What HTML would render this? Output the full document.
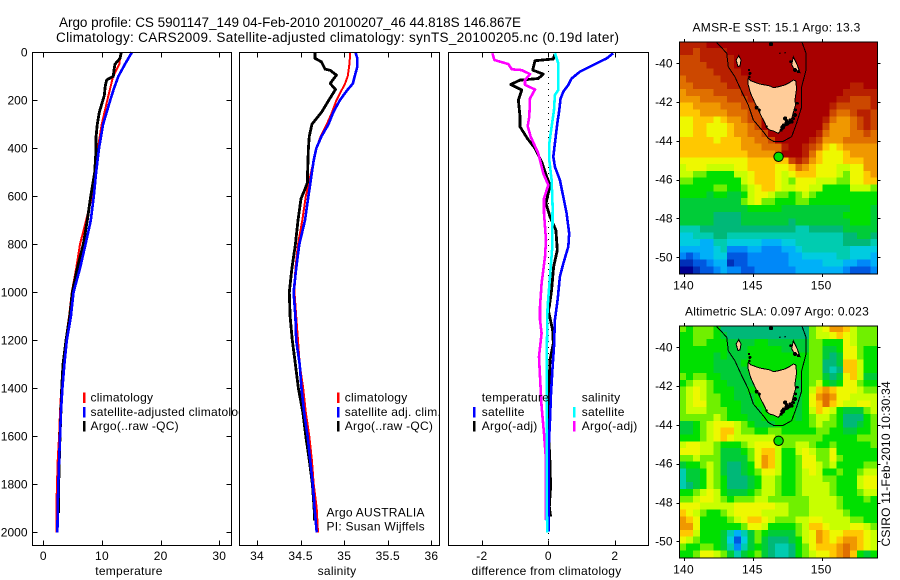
<!DOCTYPE html>
<html lang="en">
<head>
<meta charset="utf-8">
<title>Argo profile CS 5901147_149</title>
<style>
html,body{margin:0;padding:0;background:#fff;}
svg{display:block;}
text{font-family:"Liberation Sans",sans-serif;font-size:12px;fill:#000;letter-spacing:.25px;}
.frame{fill:none;stroke:#000;stroke-width:1;shape-rendering:crispEdges;}
</style>
</head>
<body>
<svg id="chart" xmlns="http://www.w3.org/2000/svg" width="900" height="580" viewBox="0 0 900 580">
  <defs>
    <clipPath id="clip-map1"><rect x="679.5" y="41.5" width="198" height="232"/></clipPath>
    <clipPath id="clip-map2"><rect x="679.5" y="325.5" width="198" height="232"/></clipPath>
  </defs>
  <rect x="0" y="0" width="900" height="580" fill="#fff"/>
  <text x="59" y="27" textLength="462" style="font-size:13.5px;letter-spacing:0">Argo profile: CS 5901147_149 04-Feb-2010 20100207_46 44.818S 146.867E</text>
  <text x="56" y="42" textLength="563" style="font-size:13.5px;letter-spacing:0">Climatology: CARS2009. Satellite-adjusted climatology: synTS_20100205.nc (0.19d later)</text>
  <g id="panel-temp"></g>
  <g id="panel-sal"></g>
  <g id="panel-diff"></g>
  <g id="map-sst"></g>
  <g id="map-sla"></g>
  <g>
    <text x="129" y="575" text-anchor="middle">temperature</text>
    <text x="337" y="575" text-anchor="middle">salinity</text>
    <text x="546.5" y="575" text-anchor="middle">difference from climatology</text>
    <text x="326.5" y="516.5">Argo AUSTRALIA</text>
    <text x="326.5" y="530.5">PI: Susan Wijffels</text>
    <text x="692.5" y="31.5" textLength="168">AMSR-E SST: 15.1 Argo: 13.3</text>
    <text x="685" y="315.5" textLength="184">Altimetric SLA: 0.097 Argo: 0.023</text>
    <text transform="translate(890,546.5) rotate(-90)" textLength="165.5">CSIRO 11-Feb-2010 10:30:34</text>
  </g>
</svg>
<script>
// ---------- profile data ----------
const depthTicks = [0,200,400,600,800,1000,1200,1400,1600,1800,2000];
const tempTicks = [0,10,20,30];
const salTicks = [34,34.5,35,35.5,36];
const salTickLabels = ['34','34.5','35','35.5','36'];
const diffTicks = [-2,0,2];

const tempClimDepth = [0,50,100,150,200,300,400,500,600,700,800,900,1000,1100,1200,1300,1400,1500,1600,1700,1800,1900,2000];
const tempClim = [13.2,12.95,11.9,11.4,10.9,9.95,9.3,8.8,8.3,7.3,6.25,5.6,4.85,4.4,3.8,3.3,3.07,2.85,2.7,2.45,2.33,2.22,2.22];
const tempSatDepth = [0,50,100,150,200,300,400,500,600,700,800,900,1000,1100,1200,1300,1400,1500,1600,1700,1800,1900,2000];
const tempSat = [15.1,13.9,12.8,12.05,11.4,10.2,9.5,9.0,8.6,8.1,7.2,6.25,5.15,4.7,4.0,3.6,3.25,3.0,2.85,2.7,2.55,2.45,2.4];
const tempArgoDepth = [0,25,50,75,100,115,140,180,250,300,350,400,500,600,700,800,900,1000,1100,1200,1300,1400,1500,1600,1700,1800,1920];
const tempArgo = [13.3,13.07,12.2,12.05,11.93,10.8,10.57,10.4,9.55,9.2,9,9,8.76,8.08,7.5,6.82,5.8,4.95,4.5,3.87,3.36,3.13,3.0,2.85,2.73,2.62,2.62];

const salClimDepth = [0,50,100,130,200,250,300,350,400,500,600,700,800,900,1000,1100,1200,1300,1400,1500,1600,1700,1800,1900,2000];
const salClim = [35.07,35.06,35.04,35.01,34.91,34.86,34.80,34.73,34.68,34.62,34.56,34.52,34.47,34.44,34.43,34.45,34.47,34.49,34.53,34.56,34.6,34.63,34.65,34.685,34.70];
const salSatDepth = [0,25,60,100,130,160,200,250,300,350,400,450,500,550,600,700,800,900,1000,1100,1200,1300,1400,1500,1600,1700,1800,1900,2000];
const salSat = [35.13,35.15,35.15,35.12,35.10,35.03,34.95,34.875,34.82,34.74,34.68,34.65,34.63,34.61,34.59,34.55,34.485,34.45,34.42,34.44,34.45,34.49,34.51,34.54,34.58,34.61,34.64,34.66,34.685];
const salArgoDepth = [0,25,40,70,75,95,130,155,190,250,300,350,400,500,540,570,610,700,800,900,1000,1100,1200,1300,1400,1500,1600,1700,1800,1900,1950];
const salArgo = [34.665,34.665,34.74,34.78,34.84,34.91,34.84,34.90,34.84,34.74,34.63,34.6,34.59,34.58,34.58,34.55,34.505,34.47,34.44,34.40,34.37,34.38,34.405,34.44,34.475,34.525,34.56,34.6,34.635,34.655,34.66];

const diffTempSatDepth = [4,25,53,81,109,136,164,192,241,296,380,435,477,532,602,671,755,810,880,935,1032,1115,1226,1310,1421,1532,1657,1851,1997];
const diffTempSat = [1.95,1.76,1.35,0.95,0.7,0.6,0.45,0.37,0.33,0.27,0.2,0.15,0.2,0.35,0.45,0.55,0.63,0.6,0.45,0.35,0.28,0.2,0.17,0.13,0.08,0.05,0.01,0.01,0.01];
const diffSalSatDepth = [4,46,116,157,178,241,310,380,449,532,643,810,935,1060,1115,1310,1588,1865,2000];
const diffSalSat = [0.2,0.3,0.3,0.3,0.2,0.17,0.1,0.03,0.03,0.1,0.13,0.12,0.05,-0.02,-0.03,-0.05,-0.05,-0.05,-0.03];
const diffTempArgoDepth = [7,28,35,74,91,109,116,134,157,199,268,310,359,400,456,518,553,630,685,741,824,894,991,1060,1074,1157,1212,1282,1365,1449,1588,1713,1810,1893,1935];
const diffTempArgo = [0.2,0.15,-0.4,-0.47,-0.15,-0.3,-0.85,-1.13,-0.8,-0.9,-0.85,-0.85,-0.63,-0.4,-0.2,-0.05,0.05,-0.07,0.05,0.23,0.27,0.16,0.1,0.03,0,0.13,0.15,0.05,0.03,0.01,0.01,0.05,0.07,0.03,0.07];
const diffSalArgoDepth = [4,32,49,71,74,91,116,136,155,192,268,307,352,421,505,553,609,671,782,852,963,1060,1115,1171,1268,1351,1476,1588,1699,1949];
const diffSalArgo = [-1.68,-1.62,-1.2,-1.1,-0.8,-0.55,-0.7,-0.7,-0.4,-0.55,-0.57,-0.62,-0.53,-0.3,-0.15,0,-0.13,-0.13,-0.07,-0.1,-0.2,-0.25,-0.25,-0.2,-0.28,-0.25,-0.2,-0.13,-0.07,-0.07];

// ---------- map data ----------
const lonTicks = [140,145,150];
const latTicks = [-40,-42,-44,-46,-48,-50];
const floatLon = [146.867];
const floatLat = [-44.818];
const sstLevels = [
[17,17,17,17,18,18,18,18,18,18,18,18,18,18,18,18,18,18,18,18,18,18,18,18,18,18,18,18,18],
[17,17,16,17,17,17,17,18,18,18,18,18,18,18,18,18,18,18,18,18,18,18,18,18,18,18,18,18,18],
[16,16,16,17,17,17,17,17,18,18,18,18,18,18,18,18,18,18,18,18,18,18,18,18,18,18,18,18,18],
[16,16,16,16,17,17,17,17,18,18,18,18,18,18,18,18,18,18,18,18,18,18,18,18,18,18,18,18,18],
[16,16,16,16,16,17,17,17,17,18,18,18,18,18,18,18,18,18,18,18,18,18,18,18,18,18,18,18,18],
[15,16,16,16,16,16,17,17,17,17,18,18,18,18,18,18,18,18,18,18,18,18,18,18,18,18,18,18,18],
[15,15,16,16,16,16,16,17,17,17,17,17,18,18,18,18,18,18,18,18,18,18,18,18,18,17,17,18,18],
[14,15,15,15,15,16,16,16,16,17,17,17,18,18,18,18,18,18,18,18,18,18,18,18,17,17,17,17,17],
[14,14,14,15,15,15,15,16,16,16,17,17,18,18,18,18,18,18,18,18,18,18,18,17,17,16,16,16,17],
[13,13,14,14,14,14,15,15,15,16,16,17,18,18,18,18,18,18,18,18,18,18,17,16,16,16,16,16,17],
[13,13,13,14,14,14,14,15,15,15,16,16,18,18,18,18,18,18,18,18,18,18,16,15,15,16,17,17,16],
[12,12,13,13,13,12,13,14,14,15,16,16,18,18,18,18,18,18,18,18,18,17,15,14,14,15,16,17,16],
[12,12,13,13,12,12,12,13,14,14,15,16,18,18,18,18,18,18,18,18,18,16,14,14,14,15,16,17,16],
[12,12,13,13,12,12,12,13,14,14,15,15,16,18,18,18,18,18,18,18,17,15,14,14,14,15,15,16,15],
[13,13,13,13,13,12,13,13,13,14,14,15,15,16,18,18,18,18,18,17,16,14,14,14,15,15,15,15,15],
[13,13,13,13,13,13,13,13,13,14,14,14,15,15,15,17,18,18,17,16,15,13,12,13,14,14,14,14,14],
[13,13,13,13,13,13,13,13,13,13,14,14,14,14,15,18,18,18,17,15,13,12,12,12,13,14,14,14,14],
[12,12,12,12,12,12,12,12,12,12,13,13,13,13,13,13,16,17,16,14,13,12,12,12,13,13,13,14,14],
[11,12,12,12,11,11,11,11,12,12,13,13,13,13,12,12,13,15,14,13,12,12,12,11,11,12,12,14,14],
[11,11,10,10,9,9,9,9,11,11,12,13,13,13,12,11,12,13,13,13,12,12,12,11,10,12,12,13,14],
[10,10,9,9,9,9,9,9,9,11,12,13,13,13,12,11,10,12,12,12,11,11,11,10,10,12,12,13,13],
[9,9,9,9,9,10,10,9,9,10,11,12,13,13,12,11,11,12,12,11,11,9,9,9,9,11,11,11,10],
[9,9,9,9,8,9,9,8,8,9,11,12,12,11,10,10,9,10,11,10,9,9,9,9,9,9,9,9,9],
[8,8,8,8,8,8,8,8,8,10,11,12,10,10,9,9,9,10,10,9,9,9,9,9,9,9,9,9,9],
[8,8,8,8,8,8,8,8,8,8,9,9,9,9,9,8,8,8,8,8,8,8,8,8,8,9,9,9,8],
[8,8,8,8,8,7,7,7,7,8,8,8,8,8,8,8,8,8,8,8,8,8,8,8,9,9,9,9,8],
[8,8,8,8,8,7,7,7,7,8,8,8,8,8,8,8,7,8,8,8,8,8,8,8,8,9,9,9,8],
[6,6,6,7,7,7,7,7,7,7,7,7,7,7,7,7,7,6,6,7,7,7,7,7,8,8,8,8,8],
[5,5,6,6,6,7,7,6,6,6,6,6,6,6,6,6,6,6,6,6,6,6,6,6,7,7,8,8,7],
[5,5,5,4,4,6,6,5,5,5,5,5,4,4,4,5,5,6,6,6,6,6,6,6,7,7,7,7,6],
[4,4,4,4,4,5,6,3,3,3,4,4,3,3,3,4,4,5,6,6,6,6,6,6,6,5,5,5,5],
[3,2,3,4,4,5,5,2,2,2,3,3,3,3,3,3,4,4,5,5,5,5,5,6,6,5,5,5,4],
[1,1,2,2,3,4,4,1,2,2,3,3,3,3,3,3,4,4,4,4,4,5,5,5,4,4,3,3,4],
[0,0,1,2,2,3,4,3,3,2,2,3,3,3,3,3,3,4,4,4,4,4,4,4,3,2,2,2,3]
];
const slaLevels = [
[10,9,10,10,10,9,7,7,7,7,7,7,7,7,7,7,7,7,7,10,11,12,14,14,13,11,10,10,10],
[9,9,10,10,10,9,8,7,7,7,7,7,7,7,7,7,7,7,7,10,11,11,12,13,12,11,10,10,10],
[9,9,10,10,9,9,9,8,8,8,8,9,9,8,8,8,8,8,8,10,10,9,9,9,12,11,10,10,10],
[9,9,9,9,9,9,9,8,8,8,9,9,9,9,9,8,8,8,8,10,10,8,8,9,12,12,10,9,9],
[9,9,9,9,9,8,9,8,8,8,9,9,9,9,9,9,9,9,9,10,10,8,7,8,12,12,10,9,9],
[9,9,9,9,9,8,8,8,8,9,9,9,9,9,9,9,9,9,9,10,10,7,7,8,13,13,11,9,9],
[9,9,9,9,9,8,8,8,8,8,9,9,9,9,9,9,9,9,9,10,10,7,6,7,13,13,11,9,9],
[10,9,10,10,9,9,8,8,8,8,8,9,9,9,9,9,9,9,9,10,10,8,7,8,12,13,11,8,8],
[9,10,11,11,10,9,9,8,8,8,8,9,9,9,9,9,9,8,9,10,11,9,8,9,12,12,10,9,9],
[10,11,12,11,10,9,9,9,8,8,9,9,9,9,9,9,9,8,9,11,13,14,13,12,12,12,11,10,10],
[10,11,12,11,10,10,9,9,8,8,8,9,9,9,9,9,9,8,9,12,14,15,14,12,12,11,11,11,11],
[10,11,12,12,10,10,9,9,9,8,8,9,9,9,9,9,9,8,9,12,13,15,13,12,11,11,12,12,11],
[10,11,11,11,10,10,10,9,9,8,8,8,9,9,9,9,9,8,9,11,13,12,11,9,8,8,8,10,11],
[10,10,10,10,10,11,10,9,9,9,8,8,9,9,9,9,9,8,9,10,11,11,10,9,7,7,7,9,10],
[8,8,9,10,11,12,12,12,11,10,9,8,8,8,9,9,9,9,9,10,11,10,10,9,7,7,8,9,10],
[8,8,9,10,11,12,13,13,11,10,10,9,9,10,10,9,9,9,9,9,10,10,9,9,8,8,9,9,10],
[9,9,9,10,11,12,13,12,11,11,11,11,11,11,10,10,10,10,10,10,10,9,9,9,9,9,10,10,10],
[11,12,12,11,11,10,9,9,9,10,11,12,12,12,11,10,10,11,11,10,9,9,10,9,9,9,9,9,10],
[12,12,12,11,11,10,8,8,8,9,10,12,13,13,11,9,9,11,12,11,10,10,12,9,9,9,9,9,9],
[10,10,11,10,10,10,8,8,8,8,10,12,14,13,11,9,9,10,12,12,10,10,12,10,9,9,9,9,9],
[8,9,9,10,11,10,8,7,7,8,9,12,14,13,11,9,9,10,12,12,11,10,11,9,9,9,9,10,10],
[6,8,8,9,11,10,8,7,7,8,9,10,12,12,11,9,9,10,11,12,11,9,9,10,9,9,10,11,11],
[6,8,8,9,11,10,9,7,7,7,8,9,11,11,10,9,9,10,11,11,11,10,10,9,9,9,11,12,12],
[6,7,8,9,11,10,9,7,7,7,8,9,11,11,10,9,9,10,11,11,11,11,10,9,9,9,11,12,12],
[9,9,10,11,12,11,9,8,8,8,9,10,11,11,10,9,9,10,11,11,11,11,10,9,9,9,10,11,11],
[10,10,11,12,12,11,10,9,10,10,10,11,11,10,10,10,10,10,10,11,11,11,11,10,9,9,9,10,9],
[12,12,12,11,11,11,11,11,12,12,12,12,12,12,11,11,10,10,10,11,11,11,11,10,9,9,9,9,9],
[13,12,11,10,9,9,10,11,12,12,12,12,11,11,11,11,10,10,10,11,11,11,11,11,10,9,9,9,9],
[14,13,12,9,9,9,9,10,11,12,13,13,12,11,10,10,10,11,11,12,12,11,11,11,11,10,10,9,9],
[14,14,12,9,9,9,9,9,9,10,12,12,11,9,9,9,9,10,11,13,13,12,11,11,11,12,12,11,10],
[13,13,11,9,9,9,8,6,4,6,8,10,9,8,8,8,8,10,11,12,14,13,12,12,13,13,13,12,11],
[12,11,10,9,9,9,8,5,2,5,8,10,8,7,7,7,8,9,11,12,14,13,12,13,14,14,13,12,11],
[10,9,9,10,10,9,8,6,3,6,8,9,8,7,6,6,7,9,10,12,13,13,13,14,15,14,13,12,11],
[9,9,10,12,12,11,10,8,6,8,9,10,8,7,6,6,7,9,10,11,12,12,13,14,15,13,9,8,9]
];
const levelColors = ['#000090','#0030b8','#0058e0','#0088f8','#00b0f8','#00cce0','#00ccb0','#00b878','#00cc38','#00e000','#70f000','#c8ff00','#eef800','#ffc800','#f09800','#e07000','#cc4800','#b82000','#a80000'];
const tasmaniaLon = [144.67,144.85,145.03,145.30,145.52,145.90,146.25,146.45,146.61,146.90,147.33,147.65,147.94,148.11,148.18,148.06,148.10,147.99,147.82,147.57,147.35,147.21,146.85,146.49,146.25,146.05,145.88,145.57,145.40,145.16,144.84,144.63];
const tasmaniaLat = [-40.77,-40.90,-40.95,-41.02,-41.07,-41.12,-41.17,-41.24,-41.24,-41.20,-41.12,-41.00,-40.86,-40.90,-41.29,-41.89,-42.15,-42.41,-42.84,-43.01,-43.22,-43.35,-43.61,-43.49,-43.45,-43.35,-43.09,-42.66,-42.40,-42.06,-41.55,-41.03];
const kingLon = [143.78,143.97,144.14,144.07,143.92];
const kingLat = [-39.83,-39.61,-39.83,-40.14,-40.17];
const flindersLon = [147.94,148.23,148.42,148.06,147.82];
const flindersLat = [-39.66,-40.09,-40.48,-40.35,-40.09];
const isobathLon = [142.30,143.10,143.22,143.70,144.19,144.67,145.03,145.76,146.12,146.49,147.21,147.82,148.18,148.55,148.55,148.86,148.86,148.55];
const isobathLat = [-38.87,-39.48,-40.18,-40.69,-41.46,-42.15,-42.92,-43.53,-43.87,-44.02,-44.02,-43.78,-43.09,-42.24,-41.21,-40.35,-39.48,-38.87];
const rockLon = [144.79,145.28,145.47,147.34,147.46,147.17,147.82,148.06,148.23,148.06,148.30,146.32,146.97,147.34,147.75,146.00,147.60,147.25,147.45,147.95,148.10,144.75,144.72,147.05,147.70];
const rockLat = [-40.52,-42.29,-42.41,-42.84,-43.10,-43.30,-43.01,-42.67,-42.06,-40.35,-40.43,-39.02,-39.49,-39.45,-39.92,-43.27,-43.05,-43.20,-42.95,-42.85,-42.40,-40.70,-40.35,-43.45,-42.92];
const rockSize = [1.5,2,1.5,2,2.5,2.5,2,2,1.5,2,1.5,2,0.8,0.8,1.5,1.2,2,2,1.5,1.5,1.5,1.2,1.2,1.5,1.5];

// ---------- axis functions ----------
const NS = 'http://www.w3.org/2000/svg';
function depthY(d){ return 52.3 + d * 0.24; }
function tempX(t){ return 43.3 + t * 5.867; }
function salX(s){ return 257 + (s - 34) * 87.2; }
function diffX(v){ return 548.3 + v * 33.25; }
function lonX(lon){ return 684 + (lon - 140) * 13.77; }
function latY(lat, top){ return top + 21.8 + (-40 - lat) * 19.4 + 0.2; }
function make(parent, tag, attrs, txt){
  const el = document.createElementNS(NS, tag);
  for (const k in attrs) el.setAttribute(k, attrs[k]);
  if (txt !== undefined) el.textContent = txt;
  parent.appendChild(el);
  return el;
}

function drawProfile(g, name, xf, depths, vals, color, w){
  const pts = depths.map((d, i) => xf(vals[i]).toFixed(1) + ',' + depthY(d).toFixed(1)).join(' ');
  const el = make(g, 'polyline', {points: pts, fill: 'none', stroke: color, 'stroke-width': w, 'shape-rendering': 'crispEdges', 'stroke-linejoin': 'round'});
  
  
}
function drawXTicks(g, ticks, labels, xf){
  ticks.forEach((t, i) => {
    const x = Math.round(xf(t)) + 0.5;
    const top = make(g, 'line', {x1: x, x2: x, y1: 52.5, y2: 57.5, stroke: '#000', 'shape-rendering': 'crispEdges'});
    
    
    const bot = make(g, 'line', {x1: x, x2: x, y1: 540.5, y2: 545.5, stroke: '#000', 'shape-rendering': 'crispEdges'});
    
    
    const lab = make(g, 'text', {x: xf(t), y: 560, 'text-anchor': 'middle'}, labels[i]);
    
    
  });
}
function drawFrame(g, name, x0, x1){
  const bg = make(g, 'rect', {x: x0, y: 52.5, width: x1 - x0, height: 493, fill: '#fff'});
  
  
}
function drawBorder(g, name, x0, x1){
  const fr = make(g, 'rect', {x: x0, y: 52.5, width: x1 - x0, height: 493, 'class': 'frame'});
  
  
}
function drawLegend(g, name, barX, textX, entries){
  entries.forEach((e, i) => {
    const base = 401.7 + i * 14.2;
    if (e.color) {
      const bar = make(g, 'rect', {x: barX, y: base - 9, width: 2.4, height: 10.5, fill: e.color, 'shape-rendering': 'crispEdges'});
      
      
    }
    const t = make(g, 'text', {x: textX, y: base}, e.label);
    
    
  });
}

// ---------- temperature panel ----------
const gT = document.getElementById('panel-temp');
drawFrame(gT, 'temperature', 32.5, 231.5);
drawProfile(gT, 'temperature-climatology-line', tempX, tempClimDepth, tempClim, '#ff0000', 2);
drawProfile(gT, 'temperature-argo-line', tempX, tempArgoDepth, tempArgo, '#000000', 2.8);
drawProfile(gT, 'temperature-satellite-line', tempX, tempSatDepth, tempSat, '#0000ff', 2.6);
drawBorder(gT, 'temperature', 32.5, 231.5);
drawXTicks(gT, tempTicks, tempTicks.map(String), tempX);
depthTicks.forEach(d => {
  const y = Math.round(depthY(d)) + 0.5;
  const l = make(gT, 'line', {x1: 32.5, x2: 37.5, y1: y, y2: y, stroke: '#000', 'shape-rendering': 'crispEdges'});
  
  
  const r = make(gT, 'line', {x1: 226.5, x2: 231.5, y1: y, y2: y, stroke: '#000', 'shape-rendering': 'crispEdges'});
  
  
  const lab = make(gT, 'text', {x: 27.5, y: depthY(d) + 4, 'text-anchor': 'end', style: 'letter-spacing:0'}, String(d));
  
  
});
drawLegend(gT, 'temperature', 83, 90.5, [
  {label: 'climatology', color: '#ff0000'},
  {label: 'satellite-adjusted climatology', color: '#0000ff'},
  {label: 'Argo(..raw -QC)', color: '#000000'}
]);

// ---------- salinity panel ----------
const gS = document.getElementById('panel-sal');
drawFrame(gS, 'salinity', 239.5, 439.5);
drawProfile(gS, 'salinity-climatology-line', salX, salClimDepth, salClim, '#ff0000', 2);
drawProfile(gS, 'salinity-argo-line', salX, salArgoDepth, salArgo, '#000000', 2.8);
drawProfile(gS, 'salinity-satellite-line', salX, salSatDepth, salSat, '#0000ff', 2.6);
drawBorder(gS, 'salinity', 239.5, 439.5);
drawXTicks(gS, salTicks, salTickLabels, salX);
drawLegend(gS, 'salinity', 337, 344.7, [
  {label: 'climatology', color: '#ff0000'},
  {label: 'satellite adj. clim.', color: '#0000ff'},
  {label: 'Argo(..raw -QC)', color: '#000000'}
]);

// ---------- difference panel ----------
const gD = document.getElementById('panel-diff');
drawFrame(gD, 'difference', 448.5, 648.5);
const zero = make(gD, 'line', {x1: diffX(0), x2: diffX(0), y1: 53, y2: 545, stroke: '#000', 'stroke-dasharray': '1 5', 'shape-rendering': 'crispEdges'});


drawProfile(gD, 'temperature-argo-difference-line', diffX, diffTempArgoDepth, diffTempArgo, '#000000', 2.8);
drawProfile(gD, 'temperature-satellite-difference-line', diffX, diffTempSatDepth, diffTempSat, '#0000ff', 2.6);
drawProfile(gD, 'salinity-argo-difference-line', diffX, diffSalArgoDepth, diffSalArgo, '#ff00ff', 2.6);
drawProfile(gD, 'salinity-satellite-difference-line', diffX, diffSalSatDepth, diffSalSat, '#00ffff', 2.6);
drawBorder(gD, 'difference', 448.5, 648.5);
drawXTicks(gD, diffTicks, diffTicks.map(String), diffX);
drawLegend(gD, 'difference-temperature', 473, 481.7, [
  {label: 'temperature', color: null},
  {label: 'satellite', color: '#0000ff'},
  {label: 'Argo(-adj)', color: '#000000'}
]);
drawLegend(gD, 'difference-salinity', 573, 581.7, [
  {label: 'salinity', color: null},
  {label: 'satellite', color: '#00ffff'},
  {label: 'Argo(-adj)', color: '#ff00ff'}
]);

// ---------- maps ----------
function toPoints(lons, lats, top){
  return lons.map((lon, i) => lonX(lon).toFixed(1) + ',' + latY(lats[i], top).toFixed(1)).join(' ');
}
function drawMap(g, name, levels, top, clipId){
  const inner = make(g, 'g', {'clip-path': 'url(#' + clipId + ')'});
  
  
  const dLon = 14.38 / 29, dLat = 0.3515, lon0 = 139.66, lat0 = -38.868;
  levels.forEach((row, j) => {
    row.forEach((lev, i) => {
      const x0 = lonX(lon0 + i * dLon), x1 = lonX(lon0 + (i + 1) * dLon);
      const y0 = latY(lat0 - j * dLat, top), y1 = latY(lat0 - (j + 1) * dLat, top);
      const c = make(inner, 'rect', {x: x0.toFixed(2), y: y0.toFixed(2), width: (x1 - x0 + 0.4).toFixed(2), height: (y1 - y0 + 0.4).toFixed(2), fill: levelColors[lev], 'shape-rendering': 'crispEdges'});
      
      
    });
  });
  [[tasmaniaLon, tasmaniaLat, 'tasmania'], [kingLon, kingLat, 'king-island'], [flindersLon, flindersLat, 'flinders-island']].forEach(s => {
    const p = make(inner, 'polygon', {points: toPoints(s[0], s[1], top), fill: '#ffcc99', stroke: '#000', 'stroke-width': 1, 'shape-rendering': 'crispEdges'});
    
    
  });
  rockLon.forEach((lon, i) => {
    const r = make(inner, 'circle', {cx: lonX(lon), cy: latY(rockLat[i], top), r: rockSize[i], fill: '#000', 'shape-rendering': 'crispEdges'});
    
    
  });
  const iso = make(inner, 'polyline', {points: toPoints(isobathLon, isobathLat, top), fill: 'none', stroke: '#000', 'stroke-width': 1, 'shape-rendering': 'crispEdges'});
  
  
  const dot = make(inner, 'circle', {cx: lonX(floatLon[0]), cy: latY(floatLat[0], top), r: 4.7, fill: '#00e000', stroke: '#000', 'stroke-width': 1});
  
  

  const fr = make(g, 'rect', {x: 679.5, y: top + 0.5, width: 198, height: 232, 'class': 'frame'});
  
  

  lonTicks.forEach(lon => {
    const x = Math.round(lonX(lon)) + 0.5;
    const a = make(g, 'line', {x1: x, x2: x, y1: top - 2.5, y2: top + 0.5, stroke: '#000', 'shape-rendering': 'crispEdges'});
    
    
    const b = make(g, 'line', {x1: x, x2: x, y1: top + 232.5, y2: top + 235.5, stroke: '#000', 'shape-rendering': 'crispEdges'});
    
    
    const t = make(g, 'text', {x: lonX(lon) - 0.5, y: top + 248, 'text-anchor': 'middle'}, String(lon));
    
    
  });
  latTicks.forEach(lat => {
    const y = Math.round(latY(lat, top)) + 0.5;
    const a = make(g, 'line', {x1: 676.5, x2: 679.5, y1: y, y2: y, stroke: '#000', 'shape-rendering': 'crispEdges'});
    
    
    const b = make(g, 'line', {x1: 877.5, x2: 880.5, y1: y, y2: y, stroke: '#000', 'shape-rendering': 'crispEdges'});
    
    
    const t = make(g, 'text', {x: 672.5, y: latY(lat, top) + 4, 'text-anchor': 'end', style: 'letter-spacing:0'}, String(lat));
    
    
  });
}
drawMap(document.getElementById('map-sst'), 'sst-map', sstLevels, 41.3, 'clip-map1');
drawMap(document.getElementById('map-sla'), 'sla-map', slaLevels, 325.3, 'clip-map2');
</script>
</body>
</html>
